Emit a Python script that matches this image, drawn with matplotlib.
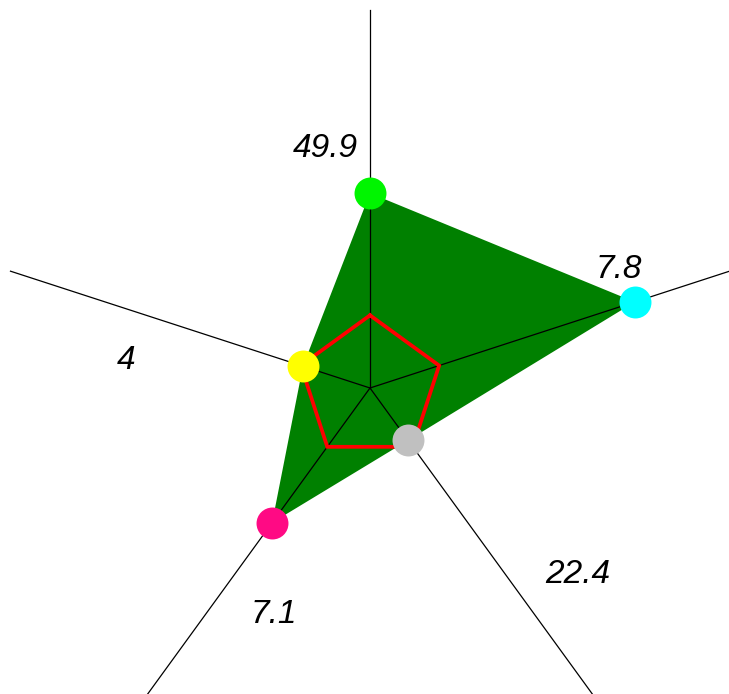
import numpy as np
import matplotlib
matplotlib.use("Agg")
import matplotlib.pyplot as plt

# ---- data ----
categories = ["A", "B", "C", "D", "E"]
value_labels = ["49.9", "7.8", "22.4", "7.1", "4"]
scores = [2.68, 3.83, 0.89, 2.29, 0.97]          # normalised to reference = 1
reference = [1.0, 1.0, 1.0, 1.0, 1.0]
axis_max = 5.2
point_colors = ["#00f500", "#00ffff", "#c0c0c0", "#ff0a84", "#ffff00"]

# label layout (angle offset in degrees from the axis, radius in score units)
label_layout = [(-10.5, 3.40), (-8.1, 3.81), (-12.7, 3.81), (-12.7, 3.34), (-10.8, 3.38)]

W, H, DPI = 729, 694, 100
fig = plt.figure(figsize=(W / DPI, H / DPI), dpi=DPI)
cx, cy, R = 370, 694 - 388, 378
ax = fig.add_axes([(cx - R) / W, (cy - R) / H, 2 * R / W, 2 * R / H], projection="polar")
ax.set_theta_zero_location("N")
ax.set_theta_direction(-1)
ax.set_ylim(0, axis_max)
ax.axis("off")
ax.patch.set_alpha(0)

n = len(categories)
theta = np.deg2rad(np.arange(n) * 360.0 / n)
theta_c = np.append(theta, theta[0])

# filled polygon
sc = np.append(scores, scores[0])
ax.fill(theta_c, sc, color="#008000", zorder=1, lw=0)

# axis lines
for t in theta:
    ax.plot([t, t], [0, axis_max], color="black", lw=0.9, zorder=2, clip_on=False)

# reference pentagon
rf = np.append(reference, reference[0])
ax.plot(theta_c, rf, color="#ff0000", lw=2.7, zorder=3, solid_joinstyle="miter")

# points
for t, s, c in zip(theta, scores, point_colors):
    ax.plot([t], [s], "o", ms=23, color=c, mec="none", zorder=4, clip_on=False)

# labels
for t, lab, (off, r) in zip(theta, value_labels, label_layout):
    ax.text(t + np.deg2rad(off), r, lab, ha="center", va="center_baseline",
            fontsize=24, fontstyle="italic", family="Liberation Sans", color="black",
            zorder=5)

fig.savefig("out.png", dpi=DPI, facecolor="white")
